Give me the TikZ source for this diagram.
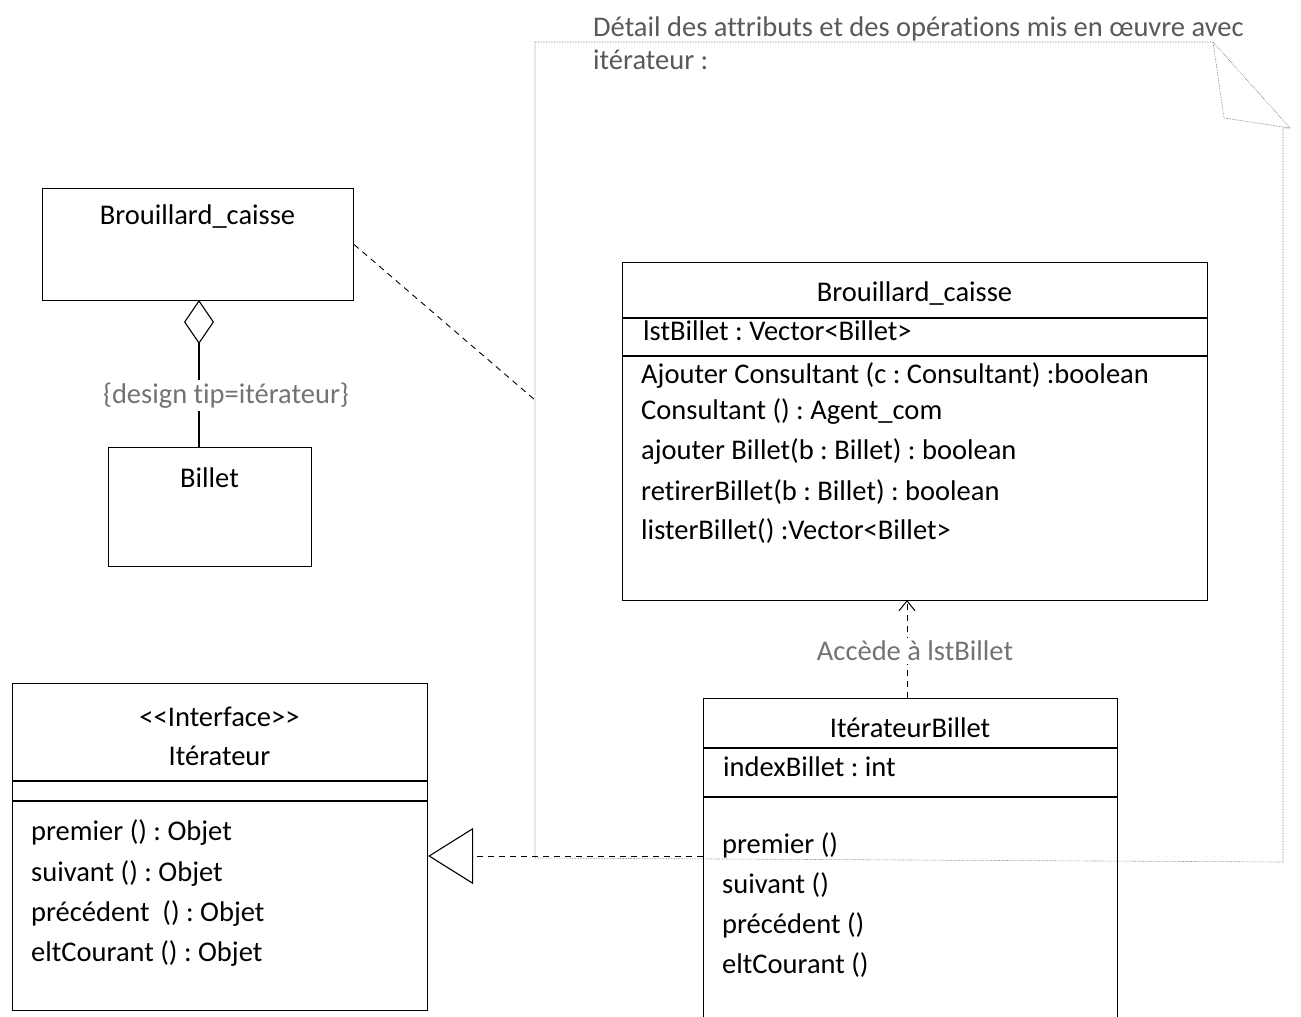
\documentclass[tikz,border=0pt]{standalone}
\usepackage{fontspec}
\setmainfont{Carlito}[Ligatures={TeX,NoCommon}]
\usetikzlibrary{arrows.meta}
\frenchspacing
\begin{document}
\begin{tikzpicture}[x=1pt,y=-1pt,
  box/.style={draw, line width=1.1pt, rectangle, inner sep=0pt, anchor=north west},
  sep/.style={line width=1.1pt},
  txt/.style={font=\fontsize{28.5}{32}\selectfont, inner sep=0pt, anchor=west},
  ctxt/.style={font=\fontsize{28.5}{32}\selectfont, inner sep=0pt},
  lbl/.style={font=\fontsize{28.5}{32}\selectfont, text=black!55, inner sep=3pt, fill=white},
  notetxt/.style={font=\fontsize{28.5}{32}\selectfont, text=black!65, inner sep=0pt, anchor=west},
  noteline/.style={densely dotted, line width=0.6pt, draw=black!60},
  depline/.style={dashed, dash pattern=on 6pt off 5pt, line width=1pt}]
\useasboundingbox (0,0) rectangle (1301,1017);

% --- note ---
\draw[noteline] (535,42) -- (1213,42) -- (1290,128) -- (1283,128) -- (1283,862) -- (535,858) -- cycle;
\draw[noteline] (1213,42) -- (1224,118) -- (1290,128);
\coordinate (noteleft) at (535,400);
\node[notetxt] (notetitle1) at (593,29) {Détail des attributs et des opérations mis en œuvre avec};
\node[notetxt] (notetitle2) at (593,60) {itérateur :};

% --- left: aggregation ---
\node[box, minimum width=311pt, minimum height=112pt] (bcL) at (42,188) {};
\node[ctxt] (bcLname) at (197.5,217) {Brouillard\_caisse};
\node[box, minimum width=203pt, minimum height=119pt] (billet) at (108,447) {};
\node[ctxt] (billetname) at (209.5,478) {Billet};
\coordinate (aggtop) at (199,300);
\coordinate (aggbot) at (199,447);
\draw[line width=1.1pt, {Diamond[open, length=44pt, width=30pt, line width=1.1pt]}-] (aggtop) -- node[lbl, pos=0.65, xshift=27pt] (aggl) {\{design tip=itérateur\}} (aggbot);

% note attachment
\draw[depline, line width=0.9pt] (bcL.east) -- (noteleft);

% --- right: Brouillard_caisse detail ---
\node[box, minimum width=585pt, minimum height=338pt] (bcR) at (622,262) {};
\node[ctxt] (bcRname) at (914.5,294) {Brouillard\_caisse};
\draw[sep] (bcR.west |- 0,318) -- (bcR.east |- 0,318);
\draw[sep] (bcR.west |- 0,356) -- (bcR.east |- 0,356);
\node[txt] (bcRattr) at (643,331) {lstBillet : Vector<Billet>};
\node[txt] (op1) at (641,376) {Ajouter Consultant (c : Consultant) :boolean};
\node[txt] (op2) at (641,412) {Consultant () : Agent\_com};
\node[txt] (op3) at (641,452) {ajouter Billet(b : Billet) : boolean};
\node[txt] (op4) at (641,492) {retirerBillet(b : Billet) : boolean};
\node[txt] (op5) at (641,531) {listerBillet() :Vector<Billet>};

% --- IterateurBillet ---
\node[box, minimum width=414pt, minimum height=330pt] (it) at (703,698) {};
\node[ctxt] (itname) at (910,728) {ItérateurBillet};
\draw[sep] (it.west |- 0,748) -- (it.east |- 0,748);
\draw[sep] (it.west |- 0,797) -- (it.east |- 0,797);
\node[txt] (itattr) at (723,767) {indexBillet : int};
\node[txt] (itop1) at (722,845) {premier ()};
\node[txt] (itop2) at (722,885) {suivant ()};
\node[txt] (itop3) at (722,925) {précédent ()};
\node[txt] (itop4) at (722,965) {eltCourant ()};

% dependency
\coordinate (depfrom) at (907,698);
\coordinate (depto) at (907,600);
\draw[depline, -{Straight Barb[length=10pt, width=16pt, line width=1pt]}] (depfrom) -- node[lbl, pos=0.48, xshift=8pt] (depl) {Accède à lstBillet} (depto);

% --- Interface Iterateur ---
\node[box, minimum width=415pt, minimum height=327pt] (itf) at (12,683) {};
\node[ctxt] (itfst) at (219.5,717) {{<}{<}Interface{>}{>}};
\node[ctxt] (itfname) at (219.5,756) {Itérateur};
\draw[sep] (itf.west |- 0,781) -- (itf.east |- 0,781);
\draw[sep] (itf.west |- 0,801) -- (itf.east |- 0,801);
\node[txt] (itfop1) at (31,833) {premier () : Objet};
\node[txt] (itfop2) at (31,874) {suivant () : Objet};
\node[txt] (itfop3) at (31,914) {précédent~~() : Objet};
\node[txt] (itfop4) at (31,954) {eltCourant () : Objet};

% realization
\draw[depline, -{Triangle[open, length=45pt, width=56pt, line width=1.1pt]}] (it.west |- 0,856) -- (itf.east |- 0,856);
\end{tikzpicture}
\end{document}
